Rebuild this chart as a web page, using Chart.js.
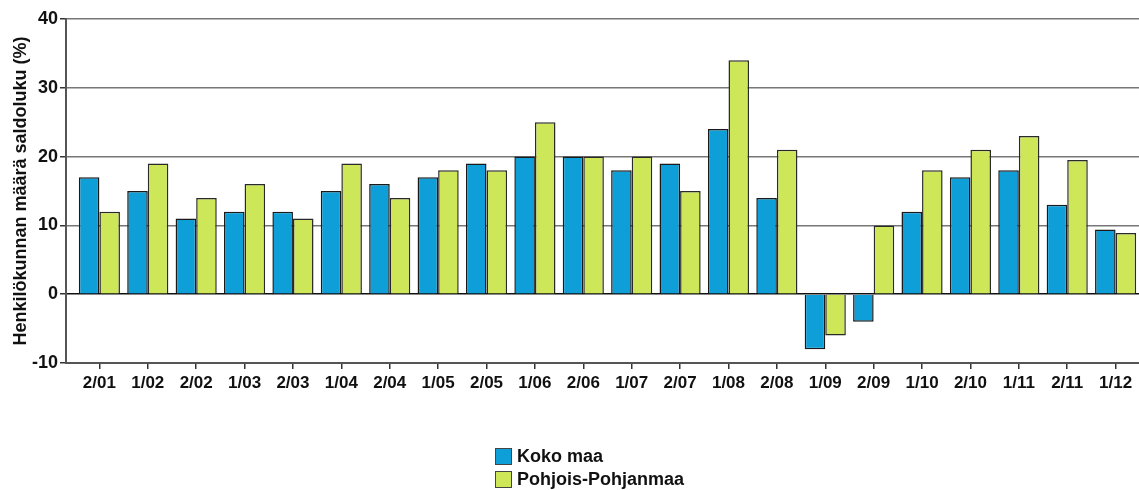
<!DOCTYPE html>
<html>
<head>
<meta charset="utf-8">
<script src="https://cdn.jsdelivr.net/npm/chart.js@4.4.1/dist/chart.umd.min.js"></script>
<style>
  html, body { margin: 0; padding: 0; background: #fff; overflow: hidden; }
  #wrap { position: relative; width: 1150px; height: 490px; }
  #legend { position: absolute; left: 495px; top: 445px; font: bold 18px "Liberation Sans", Arial, sans-serif; color: #111; }
  .item { display: flex; align-items: center; height: 23px; }
  .box { width: 17px; height: 17px; border: 1.5px solid #444; margin-right: 5px; box-sizing: border-box; }
</style>
</head>
<body>
<div id="wrap">
  <canvas id="myChart" width="1150" height="490"></canvas>
  <div id="legend"></div>
</div>
<script>
const labels = ['2/01','1/02','2/02','1/03','2/03','1/04','2/04','1/05','2/05','1/06','2/06',
                '1/07','2/07','1/08','2/08','1/09','2/09','1/10','2/10','1/11','2/11','1/12'];
const kokoMaa = [17, 15, 11, 12, 12, 15, 16, 17, 19, 20, 20, 18, 19, 24, 14, -8, -4, 12, 17, 18, 13, 9.4];
const pohjoisPohjanmaa = [12, 19, 14, 16, 11, 19, 14, 18, 18, 25, 20, 20, 15, 34, 21, -6, 10, 18, 21, 23, 19.5, 8.9];
const yTicks = [-10, 0, 10, 20, 30, 40];

const KOKO = 'Koko maa';
const POHJOIS = 'Pohjois-Pohjanmaa';
const barColors = new Map([
  [KOKO, '#0f9fd8'],
  [POHJOIS, '#cde759'],
]);

const font = { family: '"Liberation Sans", Arial, sans-serif', size: 17, weight: 'bold' };

function toPoints(values) {
  return values.map((v, i) => ({ x: i, y: v }));
}

const ctx = document.getElementById('myChart');
const chart = new Chart(ctx, {
  type: 'bar',
  data: {
    datasets: [
      { label: KOKO, data: toPoints(kokoMaa), backgroundColor: barColors.get(KOKO), borderColor: '#1a1a1a', borderWidth: 1.5 },
      { label: POHJOIS, data: toPoints(pohjoisPohjanmaa), backgroundColor: barColors.get(POHJOIS), borderColor: '#2a2a2a', borderWidth: 1.5 },
    ]
  },
  options: {
    responsive: false,
    animation: false,
    layout: { padding: { top: 19, right: 1, left: 0, bottom: 0 } },
    barPercentage: 1.0,
    categoryPercentage: 0.85,
    scales: {
      x: {
        type: 'linear',
        offset: false,
        min: -0.69,
        max: labels.length - 0.31,
        afterBuildTicks: (scale) => {
          scale.ticks = labels.map((_, i) => ({ value: i }));
        },
        afterFit: (scale) => { scale.height = 127; },
        grid: {
          offset: false,
          drawOnChartArea: false,
          drawTicks: true,
          tickLength: 6,
          tickColor: '#333',
          lineWidth: 1.5,
        },
        border: { color: '#555', width: 2 },
        ticks: {
          autoSkip: false,
          maxRotation: 0,
          padding: 4,
          color: '#111',
          font: font,
          callback: (value) => labels[value],
        },
      },
      y: {
        min: -10,
        max: 40,
        afterBuildTicks: (scale) => {
          scale.ticks = yTicks.map(v => ({ value: v }));
        },
        afterFit: (scale) => { scale.width = 66; },
        grid: {
          color: (c) => c.tick && c.tick.value === 0 ? '#111' : '#777',
          lineWidth: 1.5,
          tickLength: 6,
          tickColor: '#333',
        },
        border: { color: '#555', width: 2 },
        ticks: {
          padding: 2,
          color: '#111',
          font: { ...font, size: 18 },
        },
        title: {
          display: true,
          text: 'Henkilökunnan määrä saldoluku (%)',
          color: '#111',
          font: { ...font, size: 18 },
          padding: { top: 10, bottom: 0 },
        },
      }
    },
    plugins: {
      legend: { display: false },
      tooltip: { enabled: false },
    }
  }
});

// legend drawn as html, two rows
const legendEl = document.getElementById('legend');
chart.data.datasets.forEach(ds => {
  const row = document.createElement('div');
  row.className = 'item';
  row.innerHTML = '<span class="box" style="background:' + ds.backgroundColor + '"></span><span>' + ds.label + '</span>';
  legendEl.appendChild(row);
});
</script>
</body>
</html>
